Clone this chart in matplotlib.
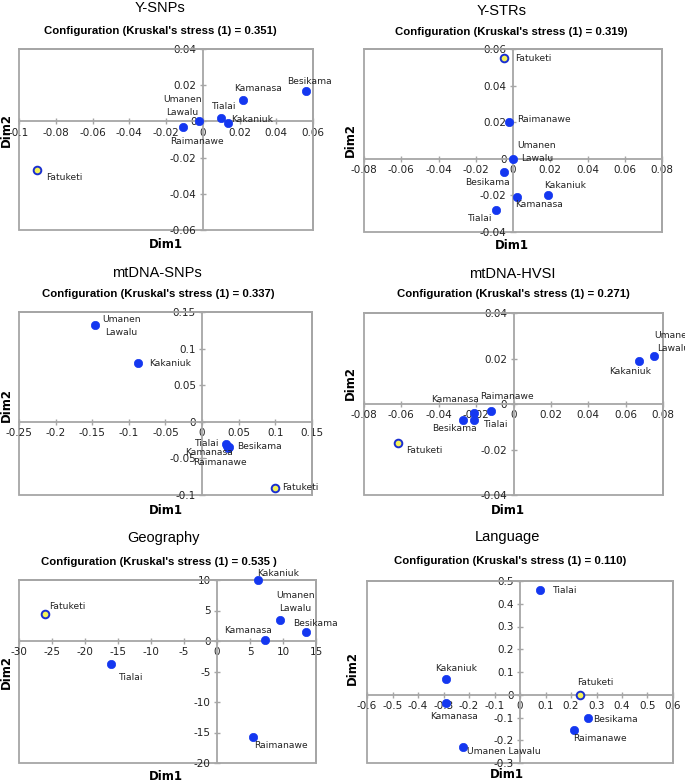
import matplotlib
matplotlib.use("Agg")
import matplotlib.pyplot as plt
from matplotlib.patches import Rectangle
import numpy as np

W, H = 685, 781
DPI = 100

# ---------------- data ----------------
titles = ["Y-SNPs", "Y-STRs", "mtDNA-SNPs", "mtDNA-HVSI", "Geography", "Language"]
subtitles = [
    "Configuration (Kruskal's stress (1) = 0.351)",
    "Configuration (Kruskal's stress (1) = 0.319)",
    "Configuration (Kruskal's stress (1) = 0.337)",
    "Configuration (Kruskal's stress (1) = 0.271)",
    "Configuration (Kruskal's stress (1) = 0.535 )",
    "Configuration (Kruskal's stress (1) = 0.110)",
]

pops = ["Fatuketi", "Besikama", "Kamanasa", "Umanen\nLawalu", "Tialai", "Kakaniuk", "Raimanawe"]

ysnp_x = [-0.090, 0.056, 0.022, -0.002, 0.010, 0.014, -0.011]
ysnp_y = [-0.027, 0.017, 0.012, 0.000, 0.002, -0.001, -0.003]

ystr_x = [-0.005, -0.005, 0.002, 0.000, -0.009, 0.019, -0.002]
ystr_y = [0.055, -0.007, -0.021, 0.000, -0.028, -0.020, 0.020]

mtsnp_x = [0.099, 0.037, 0.034, -0.146, 0.033, -0.088, 0.036]
mtsnp_y = [-0.090, -0.034, -0.033, 0.132, -0.030, 0.080, -0.036]

hvs_x = [-0.062, -0.027, -0.021, 0.075, -0.021, 0.067, -0.012]
hvs_y = [-0.017, -0.007, -0.004, 0.021, -0.007, 0.019, -0.003]

geo_x = [-26.0, 13.5, 7.2, 9.6, -16.0, 6.2, 5.4]
geo_y = [4.5, 1.5, 0.1, 3.4, -3.8, 10.0, -15.8]

lang_x = [0.235, 0.265, -0.290, -0.225, 0.080, -0.290, 0.210]
lang_y = [0.000, -0.100, -0.035, -0.230, 0.460, 0.068, -0.155]

xs = [ysnp_x, ystr_x, mtsnp_x, hvs_x, geo_x, lang_x]
ys = [ysnp_y, ystr_y, mtsnp_y, hvs_y, geo_y, lang_y]

xlims = [(-0.1, 0.06), (-0.08, 0.08), (-0.25, 0.15), (-0.08, 0.08), (-30, 15), (-0.6, 0.6)]
ylims = [(-0.06, 0.04), (-0.04, 0.06), (-0.1, 0.15), (-0.04, 0.04), (-20, 10), (-0.3, 0.5)]
xsteps = [0.02, 0.02, 0.05, 0.02, 5, 0.1]
ysteps = [0.02, 0.02, 0.05, 0.02, 5, 0.1]

# ---------------- layout (pixels) ----------------
boxes = [(19, 49, 313, 230), (364, 49, 662, 232),
         (19, 312, 312, 495), (364, 313, 663, 495),
         (19, 580, 316, 763), (367, 581, 673, 763)]
title_pos = [(160, 8), (502, 11), (157, 273), (512, 274), (163, 538), (507, 537)]
sub_pos = [(160, 31), (511, 32), (158, 294), (513, 294), (159, 562), (510, 561)]
dim1_pos = [(166, 245), (512, 246), (166, 510), (508, 510), (166, 776), (507, 774)]
dim2_pos = [(6, 130), (350, 140), (6, 405), (350, 383), (6, 672), (352, 668)]

# label offsets in pixels (dx, dy up), horizontal alignment
offsets = [
    [(9, -7, 'left'), (4, 9, 'center'), (15, 11, 'center'), (-17, 15, 'center'),
     (3, 11, 'center'), (3, 4, 'left'), (14, -15, 'center')],
    [(11, 0, 'left'), (-16, -11, 'center'), (22, -7, 'center'), (24, 7, 'center'),
     (-16, -8, 'center'), (17, 10, 'center'), (8, 3, 'left')],
    [(7, 0, 'left'), (8, 0, 'left'), (-18, -7, 'center'), (26, -1, 'center'),
     (-19, 0, 'center'), (11, 0, 'left'), (-9, -14, 'center')],
    [(8, -8, 'left'), (-9, -9, 'center'), (-19, 14, 'center'), (20, 14, 'center'),
     (22, -5, 'center'), (-9, -11, 'center'), (16, 14, 'center')],
    [(4, 7, 'left'), (9, 8, 'center'), (-16, 10, 'center'), (15, 18, 'center'),
     (20, -13, 'center'), (20, 7, 'center'), (1, -8, 'left')],
    [(15, 12, 'center'), (6, -2, 'left'), (8, -14, 'center'), (4, -4, 'left'),
     (13, 0, 'left'), (10, 11, 'center'), (26, -8, 'center')],
]

GRAY = "#a6a6a6"
BLUE = "#1437f0"
NAVY = "#1a2fd0"
YELLOW = "#f4f25a"


def fmt(v):
    if abs(v) < 1e-12:
        return "0"
    s = ("%.2f" % v).rstrip("0").rstrip(".")
    return s


fig = plt.figure(figsize=(W / DPI, H / DPI), dpi=DPI)
fig.patch.set_facecolor("white")

for i in range(6):
    x0, y0, x1, y1 = boxes[i]
    ax = fig.add_axes([x0 / W, 1 - y1 / H, (x1 - x0) / W, (y1 - y0) / H])
    ax.set_xlim(*xlims[i])
    ax.set_ylim(*ylims[i])
    ax.set_facecolor("none")
    for side in ["top", "right"]:
        ax.spines[side].set_color(GRAY)
        ax.spines[side].set_linewidth(1.3)
    for side in ["left", "bottom"]:
        ax.spines[side].set_position(("data", 0))
        ax.spines[side].set_color(GRAY)
        ax.spines[side].set_linewidth(1.3)
    ax.add_patch(Rectangle((0, 0), 1, 1, transform=ax.transAxes, fill=False,
                           edgecolor=GRAY, linewidth=1.3, clip_on=False, zorder=0))
    xt = np.arange(xlims[i][0], xlims[i][1] + xsteps[i] / 2, xsteps[i])
    yt = np.arange(ylims[i][0], ylims[i][1] + ysteps[i] / 2, ysteps[i])
    ax.set_xticks(xt)
    ax.set_yticks(yt)
    ax.set_xticklabels([fmt(v) for v in xt])
    ax.set_yticklabels([fmt(v) for v in yt])
    ax.tick_params(direction="inout", length=5, width=1, color=GRAY,
                   labelsize=7.5, labelcolor="#222222", pad=2)

    xv, yv = xs[i], ys[i]
    for j, name in enumerate(pops):
        if name == "Fatuketi":
            ax.plot(xv[j], yv[j], "o", ms=5.5, mfc=YELLOW, mec=NAVY, mew=1.4,
                    zorder=5, clip_on=False)
        else:
            ax.plot(xv[j], yv[j], "o", ms=6, mfc=BLUE, mec=BLUE, mew=0.5,
                    zorder=5, clip_on=False)
        lab = name
        if i == 5 and name.startswith("Umanen"):
            lab = "Umanen Lawalu"
        dx, dy, ha = offsets[i][j]
        ax.annotate(lab, (xv[j], yv[j]), xytext=(dx * 0.72, dy * 0.72),
                    textcoords="offset points", ha=ha, va="center",
                    fontsize=6.6, color="#222222", linespacing=1.55,
                    annotation_clip=False, zorder=6)

    tx, ty = title_pos[i]
    fig.text(tx / W, 1 - ty / H, titles[i], ha="center", va="center",
             fontsize=10.5, family="Liberation Sans")
    sx, sy = sub_pos[i]
    fig.text(sx / W, 1 - sy / H, subtitles[i], ha="center", va="center",
             fontsize=8.2, fontweight="bold", family="Liberation Sans")
    dx1, dy1 = dim1_pos[i]
    fig.text(dx1 / W, 1 - dy1 / H, "Dim1", ha="center", va="center",
             fontsize=8.5, fontweight="bold")
    dx2, dy2 = dim2_pos[i]
    fig.text(dx2 / W, 1 - dy2 / H, "Dim2", ha="center", va="center",
             fontsize=8.5, fontweight="bold", rotation=90)

fig.savefig("out.png", dpi=DPI, facecolor="white")
